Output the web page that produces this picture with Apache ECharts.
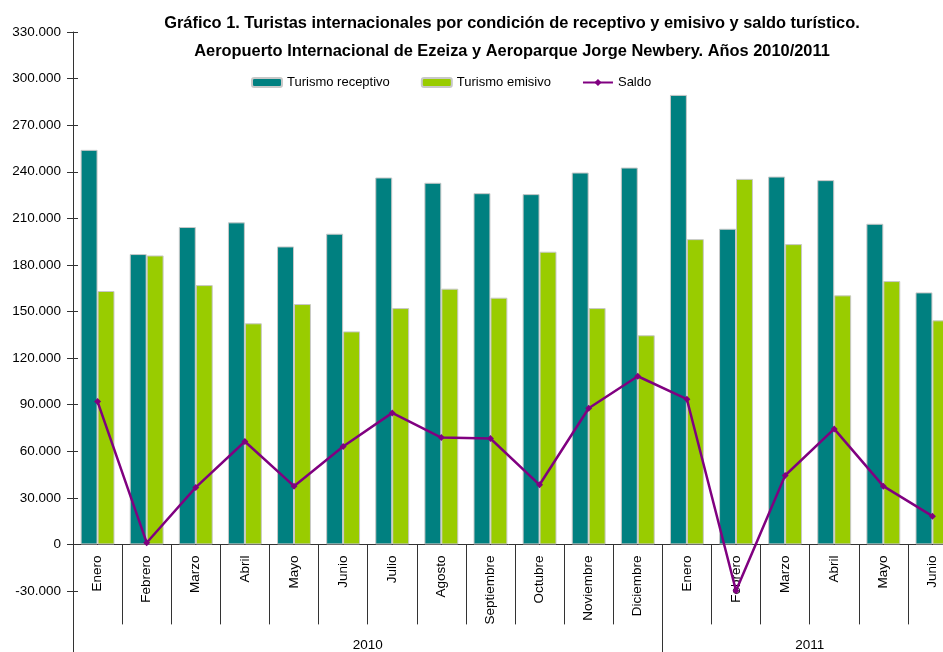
<!DOCTYPE html>
<html>
<head>
<meta charset="utf-8">
<script src="https://cdn.jsdelivr.net/npm/echarts@6/dist/echarts.min.js"></script>
<style>
  html, body { margin: 0; padding: 0; background: #fff; }
  #chart { width: 943px; height: 652px; }
</style>
</head>
<body>
<div id="chart"></div>
<script>
var meses = ['Enero', 'Febrero', 'Marzo', 'Abril', 'Mayo', 'Junio', 'Julio', 'Agosto',
    'Septiembre', 'Octubre', 'Noviembre', 'Diciembre',
    'Enero', 'Febrero', 'Marzo', 'Abril', 'Mayo', 'Junio'];
var anios = ['', '', '', '', '', '', '2010', '', '', '', '', '', '', '', '', '2011', '', '', ''];
var receptivo = [254100, 187000, 204400, 207400, 191900, 200100, 236300, 232900, 226200,
    225600, 239500, 242700, 289500, 203300, 236900, 234600, 206500, 162300];
var emisivo = [163200, 186100, 167000, 142400, 154800, 137200, 152200, 164700, 158900,
    188500, 152200, 134700, 196600, 235400, 193400, 160400, 169600, 144300];
var saldo = [92000, 1100, 36700, 66300, 37500, 63000, 84700, 68800, 68200,
    38400, 87700, 108300, 93500, -29800, 44400, 74400, 37500, 18200];

var chart = echarts.init(document.getElementById('chart'));
var fuente = "'Liberation Sans Narrow', 'Arial Narrow', 'Liberation Sans', sans-serif";

function miles(v) {
    var s = Math.abs(v).toString().replace(/\B(?=(\d{3})+(?!\d))/g, '.');
    return (v < 0 ? '-' : '') + s;
}

var option = {
    animation: false,
    textStyle: { fontFamily: fuente, color: '#000' },
    title: {
        text: 'Gráfico 1. Turistas internacionales por condición de receptivo y emisivo y saldo turístico.\nAeropuerto Internacional de Ezeiza y Aeroparque Jorge Newbery. Años 2010/2011',
        left: 507,
        textAlign: 'center',
        top: 5,
        textStyle: { fontFamily: fuente, fontSize: 16.4, fontWeight: 'bold', color: '#000', lineHeight: 27.5 }
    },
    legend: {
        top: 71,
        left: 246,
        itemWidth: 30,
        itemHeight: 9,
        itemGap: 31,
        textStyle: { fontFamily: fuente, fontSize: 13, color: '#000' },
        data: ['Turismo receptivo', 'Turismo emisivo', 'Saldo']
    },
    grid: { left: 73, top: 32, width: 884, height: 559, outerBoundsMode: 'none', containLabel: false },
    xAxis: [{
        type: 'category',
        data: meses,
        offset: -46.6,
        axisLine: { onZero: false, lineStyle: { color: '#333', width: 1 } },
        axisTick: { show: true, length: 80, interval: 0, lineStyle: { color: '#333' } },
        axisLabel: { rotate: 90, margin: 11, fontSize: 13.5, color: '#000', fontFamily: fuente, interval: 0 }
    }, {
        type: 'category',
        data: anios,
        boundaryGap: false,
        position: 'bottom',
        axisLine: { show: false, onZero: false },
        axisTick: {
            show: true,
            length: 62,
            interval: function (i) { return i === 0 || i === 12 || i === 18; },
            lineStyle: { color: '#333' }
        },
        axisLabel: { interval: 0, margin: 47, fontSize: 13.5, color: '#000', fontFamily: fuente }
    }],
    yAxis: [{
        type: 'value',
        min: -30000,
        max: 330000,
        interval: 30000,
        splitLine: { show: false },
        axisLine: { show: true, onZero: false, lineStyle: { color: '#333' } },
        axisTick: { show: true, length: 6, lineStyle: { color: '#333' } },
        axisLabel: { margin: 12, fontSize: 13.5, color: '#000', fontFamily: fuente, formatter: miles }
    }, {
        type: 'value',
        position: 'left',
        min: -30000,
        max: 330000,
        interval: 30000,
        splitLine: { show: false },
        axisLine: { show: false, onZero: false },
        axisTick: { show: true, inside: true, length: 5, lineStyle: { color: '#333' } },
        axisLabel: { show: false }
    }],
    series: [{
        name: 'Turismo receptivo',
        type: 'bar',
        data: receptivo,
        barGap: '0%',
        barCategoryGap: '31%',
        itemStyle: { color: '#008080', borderColor: '#c8c8c8', borderWidth: 1 }
    }, {
        name: 'Turismo emisivo',
        type: 'bar',
        data: emisivo,
        itemStyle: { color: '#99cc00', borderColor: '#c8c8c8', borderWidth: 1 }
    }, {
        name: 'Saldo',
        type: 'line',
        data: saldo,
        clip: false,
        symbol: 'diamond',
        symbolSize: 7,
        lineStyle: { color: '#800080', width: 2.5 },
        itemStyle: { color: '#800080' }
    }]
};

chart.setOption(option);
</script>
</body>
</html>
